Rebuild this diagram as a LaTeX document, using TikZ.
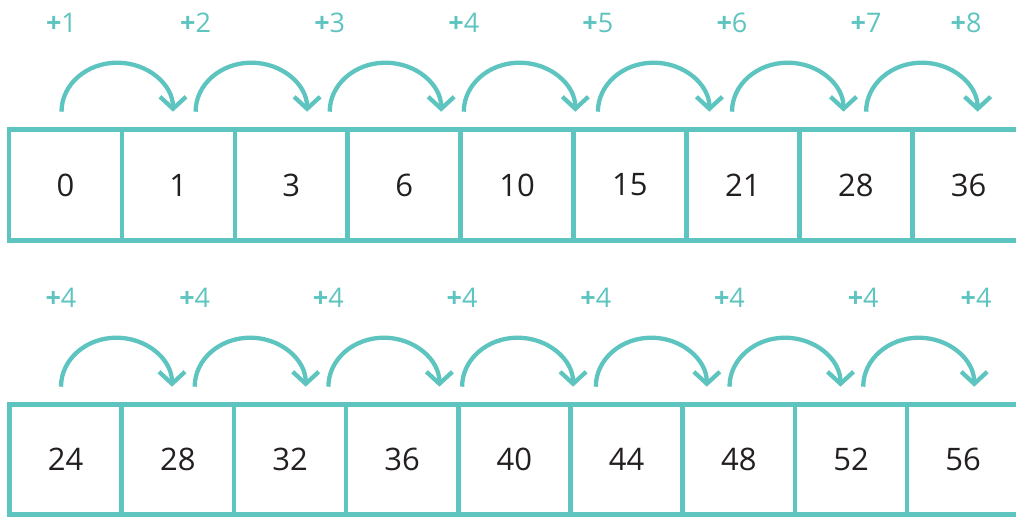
\documentclass[tikz,border=0pt]{standalone}
\usepackage{fontspec}
\setmainfont{Open Sans}
\usetikzlibrary{arrows.meta}
\definecolor{seqTeal}{HTML}{5EC4BF}
\definecolor{seqInk}{HTML}{231F20}
\tikzset{
  seq/cell/.style={draw=seqTeal, line width=4.6pt, inner sep=0pt,
    minimum width=112.9pt, minimum height=111pt,
    text=seqInk, font=\fontsize{31}{36}\selectfont},
  seq/celllow/.style={seq/cell, minimum width=112.2pt, minimum height=110pt},
  seq/jump/.style={-{Straight Barb[length=12pt,width=26pt,sharp]},
    draw=seqTeal, line width=4.3pt},
  seq/plus/.style={text=seqTeal, inner sep=0pt,
    font=\fontsize{27}{32}\selectfont},
}

\begin{document}
\begin{tikzpicture}[x=1pt, y=1pt,
    hop/.style={seq/jump},
]
\useasboundingbox (0,0) rectangle (1016,517);
\clip (0,0) rectangle (1016,517);

% ===== Upper row: triangular numbers =====
\node[seq/cell] (t0) at (65.45, 332) {0};
\node[seq/cell] (t1) at (178.35,332) {1};
\node[seq/cell] (t2) at (291.25,332) {3};
\node[seq/cell] (t3) at (404.15,332) {6};
\node[seq/cell] (t4) at (517.05,332) {10};
\node[seq/cell] (t5) at (629.95,332) {15};
\node[seq/cell] (t6) at (742.85,332) {21};
\node[seq/cell] (t7) at (855.75,332) {28};
\node[seq/cell] (t8) at (968.65,332) {36};

% Upper increments
\node[seq/plus] (tp1) at (61.5, 494) {\textbf{+}1};
\node[seq/plus] (tp2) at (195.6,494) {\textbf{+}2};
\node[seq/plus] (tp3) at (329.7,494) {\textbf{+}3};
\node[seq/plus] (tp4) at (463.8,494) {\textbf{+}4};
\node[seq/plus] (tp5) at (597.9,494) {\textbf{+}5};
\node[seq/plus] (tp6) at (732.0,494) {\textbf{+}6};
\node[seq/plus] (tp7) at (866.1,494) {\textbf{+}7};
\node[seq/plus] (tp8) at (966.0,494) {\textbf{+}8};

% Upper hops
\coordinate (ta1) at (61.5, 405.3);
\coordinate (ta2) at (195.6,405.3);
\coordinate (ta3) at (329.7,405.3);
\coordinate (ta4) at (463.8,405.3);
\coordinate (ta5) at (597.9,405.3);
\coordinate (ta6) at (732.0,405.3);
\coordinate (ta7) at (866.1,405.3);
\draw[hop] (ta1) arc[start angle=180, end angle=0, x radius=55.75pt, y radius=49pt];
\draw[hop] (ta2) arc[start angle=180, end angle=0, x radius=55.75pt, y radius=49pt];
\draw[hop] (ta3) arc[start angle=180, end angle=0, x radius=55.75pt, y radius=49pt];
\draw[hop] (ta4) arc[start angle=180, end angle=0, x radius=55.75pt, y radius=49pt];
\draw[hop] (ta5) arc[start angle=180, end angle=0, x radius=55.75pt, y radius=49pt];
\draw[hop] (ta6) arc[start angle=180, end angle=0, x radius=55.75pt, y radius=49pt];
\draw[hop] (ta7) arc[start angle=180, end angle=0, x radius=55.75pt, y radius=49pt];

% ===== Lower row: steps of four =====
\node[seq/celllow] (b0) at (65.6, 57.3) {24};
\node[seq/celllow] (b1) at (177.8,57.3) {28};
\node[seq/celllow] (b2) at (290.0,57.3) {32};
\node[seq/celllow] (b3) at (402.2,57.3) {36};
\node[seq/celllow] (b4) at (514.4,57.3) {40};
\node[seq/celllow] (b5) at (626.6,57.3) {44};
\node[seq/celllow] (b6) at (738.8,57.3) {48};
\node[seq/celllow] (b7) at (851.0,57.3) {52};
\node[seq/celllow] (b8) at (963.2,57.3) {56};

% Lower increments
\node[seq/plus] (bp1) at (61.0, 219) {\textbf{+}4};
\node[seq/plus] (bp2) at (194.7,219) {\textbf{+}4};
\node[seq/plus] (bp3) at (328.4,219) {\textbf{+}4};
\node[seq/plus] (bp4) at (462.1,219) {\textbf{+}4};
\node[seq/plus] (bp5) at (595.8,219) {\textbf{+}4};
\node[seq/plus] (bp6) at (729.5,219) {\textbf{+}4};
\node[seq/plus] (bp7) at (863.2,219) {\textbf{+}4};
\node[seq/plus] (bp8) at (976.0,219) {\textbf{+}4};

% Lower hops
\coordinate (ba1) at (61.0, 130.3);
\coordinate (ba2) at (194.7,130.3);
\coordinate (ba3) at (328.4,130.3);
\coordinate (ba4) at (462.1,130.3);
\coordinate (ba5) at (595.8,130.3);
\coordinate (ba6) at (729.5,130.3);
\coordinate (ba7) at (863.2,130.3);
\draw[hop] (ba1) arc[start angle=180, end angle=0, x radius=55.5pt, y radius=49pt];
\draw[hop] (ba2) arc[start angle=180, end angle=0, x radius=55.5pt, y radius=49pt];
\draw[hop] (ba3) arc[start angle=180, end angle=0, x radius=55.5pt, y radius=49pt];
\draw[hop] (ba4) arc[start angle=180, end angle=0, x radius=55.5pt, y radius=49pt];
\draw[hop] (ba5) arc[start angle=180, end angle=0, x radius=55.5pt, y radius=49pt];
\draw[hop] (ba6) arc[start angle=180, end angle=0, x radius=55.5pt, y radius=49pt];
\draw[hop] (ba7) arc[start angle=180, end angle=0, x radius=55.5pt, y radius=49pt];

\end{tikzpicture}
\end{document}
